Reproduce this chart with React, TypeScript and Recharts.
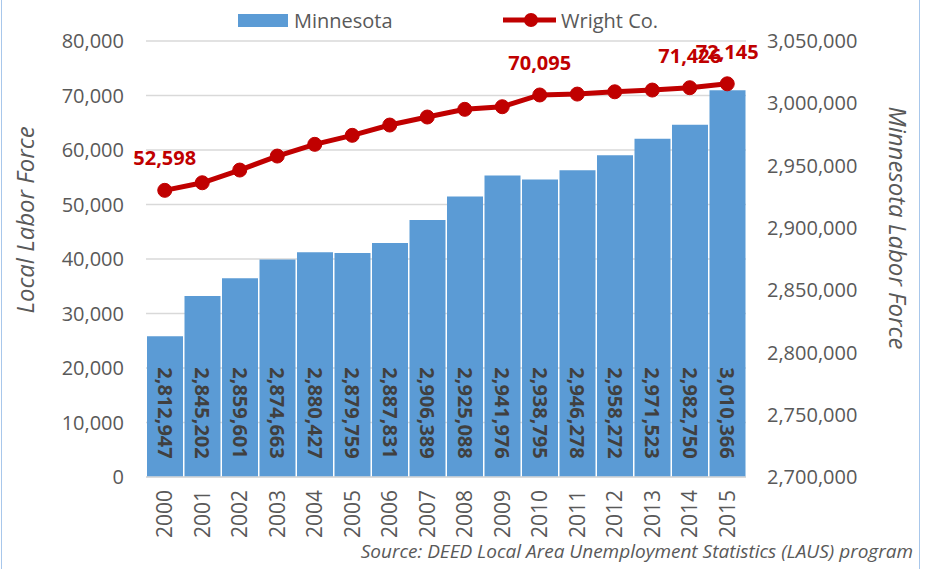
import React from 'react';
import {
  ComposedChart,
  Bar,
  Line,
  XAxis,
  YAxis,
  CartesianGrid,
  LabelList,
  Label,
} from 'recharts';

// Years shown on the category axis
const years = ['2000', '2001', '2002', '2003', '2004', '2005', '2006', '2007', '2008', '2009', '2010', '2011', '2012', '2013', '2014', '2015'];
// Minnesota labor force (right axis, bars)
const minnesota = [2812947, 2845202, 2859601, 2874663, 2880427, 2879759, 2887831, 2906389, 2925088, 2941976, 2938795, 2946278, 2958272, 2971523, 2982750, 3010366];
const wright = [52598, 53990, 56320, 58890, 61040, 62690, 64580, 66050, 67460, 67940, 70095, 70260, 70680, 71000, 71426, 72145];
// Only these years carry a value label on the line
const labelledYears = ['2000', '2010', '2014', '2015'];

const leftTicks = [0, 10000, 20000, 30000, 40000, 50000, 60000, 70000, 80000];
const rightTicks = [2700000, 2750000, 2800000, 2850000, 2900000, 2950000, 3000000, 3050000];

const FONT = '"Open Sans", "Noto Sans", sans-serif';
const GREY = '#595959';
const RED = '#c00000';
const BLUE = '#5b9bd5';

const data = years.map((year, i) => ({
  year,
  minnesota: minnesota[i],
  wright: wright[i],
}));

const fmt = (v: number) => v.toLocaleString('en-US');

const YearTick = (props: any) => {
  const { x, y, payload } = props;
  const ty = y + 13;
  return (
    <text
      x={x}
      y={ty}
      transform={`rotate(-90, ${x}, ${ty})`}
      textAnchor="end"
      dy="0.36em"
      fill={GREY}
      fontSize={21}
      fontFamily={FONT}
    >
      {payload.value}
    </text>
  );
};

const BarValue = (props: any) => {
  const { x, y, width, height, value } = props;
  const cx = x + width / 2;
  const cy = y + height - 64;
  return (
    <text
      x={cx}
      y={cy}
      transform={`rotate(90, ${cx}, ${cy})`}
      textAnchor="middle"
      dy="0.36em"
      fill="#404040"
      fontSize={20}
      fontWeight="bold"
      fontFamily={FONT}
    >
      {fmt(value)}
    </text>
  );
};

const LineValue = (props: any) => {
  const { x, y, value, index } = props;
  if (!labelledYears.includes(years[index])) return null;
  return (
    <text
      x={x}
      y={y - 25}
      textAnchor="middle"
      fill={RED}
      fontSize={20}
      fontWeight="bold"
      fontFamily={FONT}
    >
      {fmt(value)}
    </text>
  );
};

const AxisTitle = ({ viewBox, text, dx, dy, angle }: any) => {
  const x = viewBox.x + dx;
  const y = viewBox.y + dy;
  return (
    <text
      x={x}
      y={y}
      transform={`rotate(${angle}, ${x}, ${y})`}
      textAnchor="middle"
      dy="0.36em"
      fill={GREY}
      fontSize={24}
      fontStyle="italic"
      fontFamily={FONT}
    >
      {text}
    </text>
  );
};

export default function App() {
  return (
    <div style={{ position: 'absolute', left: 0, top: 0, width: 928, height: 569, background: '#fff', fontFamily: FONT }}>
      {/* thin light-blue frame edges */}
      <div style={{ position: 'absolute', left: 1, top: 0, width: 917, height: 569, borderLeft: '1.5px solid #a8c7eb', borderRight: '1.5px solid #a8c7eb' }} />

      <ComposedChart
        width={928}
        height={569}
        data={data}
        margin={{ top: 41, right: 0, bottom: 0, left: 0 }}
        barCategoryGap={1}
      >
        <CartesianGrid yAxisId="left" vertical={false} stroke="#d9d9d9" strokeWidth={1.5} />
        <XAxis
          dataKey="year"
          height={92}
          tick={<YearTick />}
          tickLine={false}
          tickSize={0}
          tickMargin={0}
          interval={0}
          axisLine={{ stroke: '#d9d9d9', strokeWidth: 1.5 }}
        />
        <YAxis
          yAxisId="left"
          orientation="left"
          width={146}
          domain={[0, 80000]}
          ticks={leftTicks}
          tickFormatter={fmt}
          axisLine={false}
          tickLine={false}
          tickSize={0}
          tickMargin={22}
          tick={{ fill: GREY, fontSize: 20, fontFamily: FONT }}
        >
          <Label content={(p: any) => <AxisTitle {...p} text="Local Labor Force" dx={25} dy={179} angle={-90} />} />
        </YAxis>
        <YAxis
          yAxisId="right"
          orientation="right"
          width={182}
          domain={[2700000, 3050000]}
          ticks={rightTicks}
          tickFormatter={fmt}
          axisLine={false}
          tickLine={false}
          tickSize={0}
          tickMargin={21}
          tick={{ fill: GREY, fontSize: 20, fontFamily: FONT, textAnchor: 'start' }}
        >
          <Label content={(p: any) => <AxisTitle {...p} text="Minnesota Labor Force" dx={152} dy={187} angle={90} />} />
        </YAxis>
        <Bar yAxisId="right" dataKey="minnesota" fill={BLUE} isAnimationActive={false}>
          <LabelList dataKey="minnesota" content={<BarValue />} />
        </Bar>
        <Line
          yAxisId="left"
          dataKey="wright"
          stroke={RED}
          strokeWidth={5}
          dot={{ r: 7, fill: RED, stroke: RED, strokeWidth: 1 }}
          isAnimationActive={false}
        >
          <LabelList dataKey="wright" content={<LineValue />} />
        </Line>
      </ComposedChart>

      {/* legend */}
      <div style={{ position: 'absolute', left: 238, top: 6, height: 28, display: 'flex', alignItems: 'center', fontSize: 20, color: GREY }}>
        <span style={{ display: 'inline-block', width: 50, height: 13, background: BLUE, marginRight: 6 }} />
        <span>Minnesota</span>
      </div>
      <div style={{ position: 'absolute', left: 502, top: 6, height: 28, display: 'flex', alignItems: 'center', fontSize: 20, color: GREY }}>
        <svg width={55} height={20} style={{ marginRight: 4 }}>
          <line x1={1} y1={10} x2={54} y2={10} stroke={RED} strokeWidth={5} />
          <circle cx={29} cy={10} r={7} fill={RED} />
        </svg>
        <span>Wright Co.</span>
      </div>

      {/* source note */}
      <div style={{ position: 'absolute', right: 15, top: 538, fontSize: 19, fontStyle: 'italic', color: GREY, whiteSpace: 'nowrap' }}>
        Source: DEED Local Area Unemployment Statistics (LAUS) program
      </div>
    </div>
  );
}
